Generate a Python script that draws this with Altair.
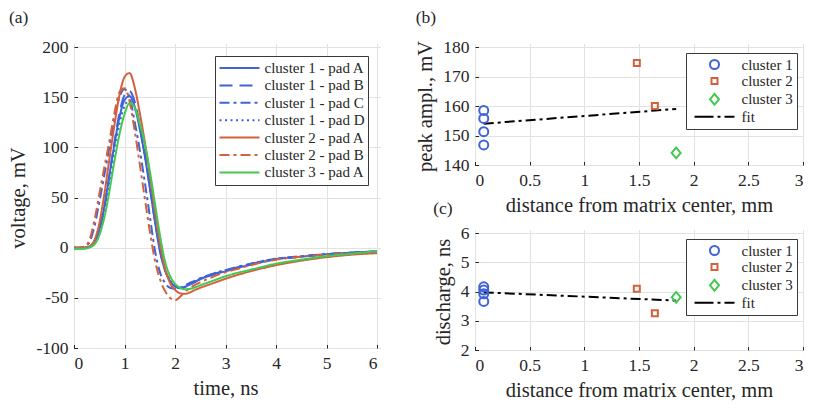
import altair as alt
import pandas as pd

FONT = "Liberation Serif"
TXT = "#262626"
BLUE = "#4063D6"
RED = "#D4613E"
GREEN = "#42C94F"

# ---------------- panel (a): waveforms ----------------
T = [0.0, 0.1, 0.2, 0.3, 0.4, 0.5, 0.6, 0.7, 0.8, 0.9, 1.0, 1.1, 1.2, 1.3, 1.4,
     1.5, 1.6, 1.7, 1.8, 1.9, 2.0, 2.1, 2.2, 2.3, 2.4, 2.5, 2.75, 3.0, 3.25, 3.5,
     4.0, 4.5, 5.0, 5.5, 6.0]

SERIES = ["cluster 1 - pad A", "cluster 1 - pad B", "cluster 1 - pad C",
          "cluster 1 - pad D", "cluster 2 - pad A", "cluster 2 - pad B",
          "cluster 3 - pad A"]

V_C1_A = [0, 0, 0, 1, 5, 18, 41, 72, 103, 130, 147, 151, 141, 119, 92,
          60, 27, -3, -22, -33, -38.5, -40, -39, -36.5, -34, -31.5, -27, -23.5, -20, -17,
          -11.5, -9, -6.5, -5, -3.5]
V_C1_B = [0, 0, 0, 1, 5, 17, 40, 72, 105, 134, 152, 156, 146, 123, 95,
          62, 28, -2, -22, -33, -38.5, -40.5, -39.5, -37, -34, -31, -26.5, -23, -19.5, -16.5,
          -11.5, -9, -6.5, -5, -4]
V_C1_C = [0, 0, 1, 5, 20, 45, 72, 100, 128, 150, 158, 150, 126, 98, 66,
          32, -2, -24, -35, -40, -41, -40, -37.5, -35, -33, -30.5, -26, -22.5, -19, -16,
          -11, -8.5, -6.5, -5, -4]
V_C1_D = [0, 0, 0, 1, 4, 15, 36, 65, 96, 123, 141, 147, 140, 120, 93,
          61, 28, -2, -21, -32, -38, -40, -39, -36.5, -33.5, -31, -26, -22.5, -19.5, -16,
          -11, -9, -6.5, -5, -4]
V_C2_A = [-1, -1, -0.5, 1, 7, 24, 53, 88, 122, 152, 170, 174, 160, 135, 106,
          73, 38, 5, -20, -35, -42, -45.5, -46, -44.5, -42, -40, -35.5, -31, -27, -23.5,
          -17.5, -13, -9.5, -7, -5.5]
V_C2_B = [0, 0, 1, 7, 26, 53, 80, 106, 134, 155, 159, 146, 117, 84, 50,
          17, -12, -31, -43, -50, -52.5, -49, -44, -40, -37, -34.5, -29, -24.5, -21, -17.5,
          -12, -9, -7, -5.5, -4.5]
V_C3_A = [-1, -1, -1, 0, 3, 12, 30, 56, 86, 113, 133, 144, 140, 124, 104,
          77, 45, 13, -13, -28, -36, -40, -41.5, -41, -39.5, -37.5, -33, -28.5, -25, -22,
          -16, -12, -8.5, -6, -3.5]

COLORS_A = [BLUE, BLUE, BLUE, BLUE, RED, RED, GREEN]
DASHES_A = [[1, 0], [13, 7], [10, 4, 3, 4], [2, 3.5], [1, 0], [10, 4, 3, 4], [1, 0]]

rows = []
for name, vals in zip(SERIES, [V_C1_A, V_C1_B, V_C1_C, V_C1_D, V_C2_A, V_C2_B, V_C3_A]):
    for t, v in zip(T, vals):
        rows.append({"t": t, "v": v, "series": name})
df_a = pd.DataFrame(rows)

# ---------------- panels (b), (c): scatter ----------------
GROUPS = ["cluster 1", "cluster 2", "cluster 3", "fit"]
C1_X = [0.08, 0.08, 0.08, 0.08]
C2_X = [1.48, 1.645]
C3_X = [1.84]
B_C1_Y = [158.5, 155.8, 151.3, 146.8]
B_C2_Y = [174.6, 160.0]
B_C3_Y = [144.1]
C_C1_Y = [4.16, 4.05, 3.92, 3.66]
C_C2_Y = [4.09, 3.26]
C_C3_Y = [3.80]
FIT_X = [0.08, 1.84]
FIT_B_Y = [154.0, 159.0]
FIT_C_Y = [3.97, 3.69]

# symbol outlines (unit = half of a 9 px marker)
SQUARE = "M-0.667,-0.667H0.667V0.667H-0.667Z"
DIAMOND = "M-1,0L0,-1.2L1,0L0,1.2Z"
FIT_PATH = "M-4.44,0H-0.22M0.67,0H1.33M2.22,0H4.44"


def pts_df(c1y, c2y, c3y):
    r = []
    for g, xs, ys in [("cluster 1", C1_X, c1y), ("cluster 2", C2_X, c2y), ("cluster 3", C3_X, c3y)]:
        for x, y in zip(xs, ys):
            r.append({"d": x, "val": y, "grp": g})
    return pd.DataFrame(r)


df_b = pts_df(B_C1_Y, B_C2_Y, B_C3_Y)
df_c = pts_df(C_C1_Y, C_C2_Y, C_C3_Y)
fit_b = pd.DataFrame({"d": FIT_X, "val": FIT_B_Y})
fit_c = pd.DataFrame({"d": FIT_X, "val": FIT_C_Y})

XTITLE = "distance from matrix center, mm"
LBL = "'' + datum.value"


def title(txt, offset):
    return alt.TitleParams(txt, anchor="start", frame="bounds", offset=offset,
                           font=FONT, fontSize=17.5, fontWeight="normal", color=TXT)


leg_a = alt.Legend(title=None, orient="top-right", offset=9, padding=3.5,
                   fillColor="white", strokeColor="#3a3a3a",
                   symbolType="stroke", symbolSize=1600, symbolStrokeWidth=2,
                   clipHeight=17, labelFont=FONT, labelFontSize=15, labelColor=TXT,
                   labelOffset=4, rowPadding=0.4, labelLimit=400)

chart_a = alt.Chart(df_a).mark_line(strokeWidth=2, interpolate="monotone").encode(
    x=alt.X("t:Q", scale=alt.Scale(domain=[0, 6], nice=False),
            axis=alt.Axis(title="time, ns", values=[0, 1, 2, 3, 4, 5, 6], labelExpr=LBL)),
    y=alt.Y("v:Q", scale=alt.Scale(domain=[-100, 200], nice=False),
            axis=alt.Axis(title="voltage, mV", values=[-100, -50, 0, 50, 100, 150, 200],
                          labelExpr=LBL)),
    color=alt.Color("series:N", scale=alt.Scale(domain=SERIES, range=COLORS_A), legend=leg_a),
    strokeDash=alt.StrokeDash("series:N", scale=alt.Scale(domain=SERIES, range=DASHES_A),
                              legend=leg_a),
).properties(width=303, height=301, title=title("(a)", 12))


def scatter(dfp, dff, ydom, yvals, ytitle, ttl, toff, h):
    leg = alt.Legend(title=None, orient="top-right", offset=6, padding=4,
                     fillColor="white", strokeColor="#3a3a3a",
                     symbolSize=81, symbolStrokeWidth=2, symbolOffset=17,
                     labelFont=FONT, labelFontSize=15,
                     labelColor=TXT, labelOffset=19.5, rowPadding=0.4)
    xax = alt.X("d:Q", scale=alt.Scale(domain=[0, 3], nice=False),
                axis=alt.Axis(title=XTITLE, values=[0, 0.5, 1, 1.5, 2, 2.5, 3], labelExpr=LBL))
    yax = alt.Y("val:Q", scale=alt.Scale(domain=ydom, nice=False),
                axis=alt.Axis(title=ytitle, values=yvals, labelExpr=LBL))
    line = alt.Chart(dff).mark_line(color="black", strokeWidth=2,
                                    strokeDash=[10, 4, 3, 4]).encode(x=xax, y=yax)
    pts = alt.Chart(dfp).mark_point(filled=False, strokeWidth=2, opacity=1, size=81).encode(
        x=xax, y=yax,
        color=alt.Color("grp:N", scale=alt.Scale(domain=GROUPS, range=[BLUE, RED, GREEN, "black"]),
                        legend=leg),
        shape=alt.Shape("grp:N", scale=alt.Scale(domain=GROUPS,
                                                 range=["circle", SQUARE, DIAMOND, FIT_PATH]),
                        legend=leg),
    )
    return alt.layer(line, pts).properties(width=328, height=h, title=title(ttl, toff))


IND = dict(color="independent", shape="independent",
           strokeDash="independent", x="independent", y="independent")
IND_L = dict(color="independent", shape="independent", strokeDash="independent")

chart_b = scatter(df_b, fit_b, [140, 180], [140, 150, 160, 170, 180], "peak ampl., mV",
                  "(b)", 12, 118)
chart_c = scatter(df_c, fit_c, [2, 6], [2, 3, 4, 5, 6], "discharge, ns",
                  "(c)", 7, 117)

right = alt.vconcat(chart_b, chart_c, spacing=-18).resolve_scale(**IND).resolve_legend(**IND_L)
chart = alt.hconcat(chart_a, right, spacing=33).resolve_scale(**IND).resolve_legend(
    **IND_L).properties(padding=0).configure_axis(
    labelFont=FONT, labelFontSize=17.5, labelColor=TXT,
    titleFont=FONT, titleFontSize=20.5, titleFontWeight="normal", titleColor=TXT,
    grid=True, gridColor="#e2e2e2", gridWidth=1,
    domain=False, ticks=True, tickSize=3.5, tickColor=TXT, tickWidth=1, offset=-3.5,
    labelPadding=6, titlePadding=7,
).configure_view(stroke=TXT, strokeWidth=1).configure_legend(
    labelFont=FONT
)

chart.save("out.html", embed_options={"renderer": "svg", "actions": False})
